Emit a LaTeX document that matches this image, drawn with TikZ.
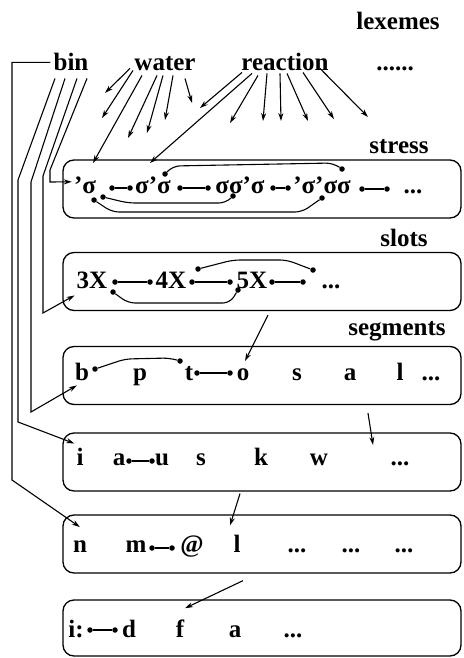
\documentclass[tikz,border=0pt]{standalone}
\usepackage{fontspec}
\setmainfont{Liberation Serif}
\usetikzlibrary{arrows.meta, calc}

\begin{document}
\begin{tikzpicture}[
    x=1pt, y=-1pt,
    tier/.style={draw, line width=1.3pt, rounded corners=11pt,
                 minimum width=398pt, minimum height=58pt, inner sep=0pt},
    lbl/.style={font=\fontsize{25}{29}\selectfont\bfseries, inner sep=0pt, anchor=base},
    dot/.style={circle, fill, inner sep=0pt, minimum size=5.5pt},
    arrow/.style={-{Stealth[length=8pt, width=5pt]}, line width=1.1pt},
    link/.style={line width=1.1pt},
    curvelink/.style={link, rounded corners=7pt},
]
    \useasboundingbox (0,0) rectangle (463,658);

    % tiers
    \node[tier] (stressbox) at (262,189)   {};
    \node[tier] (slotbox)   at (262,281.5) {};
    \node[tier] (segbox)    at (262,375.5) {};
    \node[tier] (segboxB)   at (262,462)   {};
    \node[tier] (segboxC)   at (262,544)   {};
    \node[tier, minimum height=56pt] (segboxD) at (262,628) {};

    % headings and lexemes
    \node[lbl] (lexemes)  at (398,30)  {lexemes};
    \node[lbl] (bin)      at (71,71)   {bin};
    \node[lbl] (water)    at (165,71)  {water};
    \node[lbl] (reaction) at (285,71)  {reaction};
    \node[lbl] (etc)      at (395,71)  {......};
    \node[lbl] (stress)   at (399,153) {stress};
    \node[lbl] (slots)    at (404,246) {slots};
    \node[lbl] (segments) at (397,335) {segments};

    % stress row
    \node[lbl] (s1) at (85,193)  {’σ};
    \node[lbl] (s2) at (153,193) {σ’σ};
    \node[lbl] (s3) at (240,193) {σσ’σ};
    \node[lbl] (s4) at (322,193) {’σ’σσ};
    \node[lbl] (s5) at (413,193) {...};

    % slots row
    \node[lbl] (x3) at (92,288)  {3X};
    \node[lbl] (x4) at (171,288) {4X};
    \node[lbl] (x5) at (252,288) {5X};
    \node[lbl] (x6) at (331,288) {...};

    % segment rows
    \node[lbl] (gb) at (82,380)  {b};
    \node[lbl] (gp) at (140,380) {p};
    \node[lbl] (gt) at (189,380) {t};
    \node[lbl] (go) at (243,380) {o};
    \node[lbl] (gs) at (297,380) {s};
    \node[lbl] (ga) at (350,380) {a};
    \node[lbl] (gl) at (400,380) {l};
    \node[lbl] (gx) at (431,380) {...};

    \node[lbl] (vi) at (80,465)  {i};
    \node[lbl] (va) at (119,465) {a};
    \node[lbl] (vu) at (162,465) {u};
    \node[lbl] (vs) at (201,465) {s};
    \node[lbl] (vk) at (261,465) {k};
    \node[lbl] (vw) at (319,465) {w};
    \node[lbl] (vx) at (400,465) {...};

    \node[lbl] (cn) at (80,552)  {n};
    \node[lbl] (cm) at (136,552) {m};
    \node[lbl] (ca) at (192,552) {@};
    \node[lbl] (cl) at (237,552) {l};
    \node[lbl] (cx) at (297,552) {...};
    \node[lbl] (cy) at (351,552) {...};
    \node[lbl] (cz) at (404,552) {...};

    \node[lbl] (fi) at (76,637)  {i:};
    \node[lbl] (fd) at (129,637) {d};
    \node[lbl] (ff) at (180,637) {f};
    \node[lbl] (fa) at (235,637) {a};
    \node[lbl] (fx) at (293,637) {...};

    % link dots
    \foreach \n/\x/\y in {sa/112/188, sb/130/188, sc/180/188, sd/208/188,
                          se/273/188, sf/288/188, sg/362/189, sh/387/189,
                          su/165/174, sv/342/169, sl/103/197, sm/233/196,
                          sp/94/200, sq/322/198,
                          xa/115/282, xb/150/282, xc/192/282, xd/230/282,
                          xe/272/282, xf/303/282, xu/198/269, xv/313/270,
                          xl/113/292, xm/238/290,
                          ga1/95/369, ga2/180/361, gb1/197/373, gb2/230/373,
                          va1/129/461, va2/152/461,
                          ca1/152/548, ca2/172/548,
                          fa1/90/630, fa2/115/630}
        \node[dot] (\n) at (\x,\y) {};

    \draw[link] (sa) -- (sb);
    \draw[link] (sc) -- (sd);
    \draw[link] (se) -- (sf);
    \draw[link] (sg) -- (sh);
    \draw[curvelink] (su) -- (173,166) -- (333,163) -- (sv);
    \draw[curvelink] (sl) -- (128,203) -- (226,203) -- (sm);
    \draw[curvelink] (sp) -- (112,212) -- (302,212) -- (sq);

    \draw[link] (xa) -- (xb);
    \draw[link] (xc) -- (xd);
    \draw[link] (xe) -- (xf);
    \draw[curvelink] (xu) -- (233,260) -- (287,260) -- (xv);
    \draw[curvelink] (xl) -- (128,303) -- (230,303) -- (xm);

    \draw[curvelink] (ga1) -- (125,359) -- (170,358) -- (ga2);
    \draw[link] (gb1) -- (gb2);
    \draw[link] (va1) -- (va2);
    \draw[link] (ca1) -- (ca2);
    \draw[link] (fa1) -- (fa2);

    % lexeme arrows
    \foreach \dx/\dy/\tx/\ty [count=\i] in {-35/-3/105/93, -32/-1/102/118, -23/4/93/163,
                                            -8/4/128/138, -2/4/147/133, 8/4/165/120, 20/7/192/103}
    {
        \coordinate (wt\i) at (\tx,\ty);
        \draw[arrow] ($(water.south)+(\dx,\dy)$) -- (wt\i);
    }
    \foreach \dx/\dy/\tx/\ty [count=\i] in {-43/1/200/108, -33/2/150/163, -27/4/230/123,
                                            -18/2/263/121, -5/2/281/121, 2/2/308/121,
                                            18/1/334/119, 35/-3/368/117}
    {
        \coordinate (rt\i) at (\tx,\ty);
        \draw[arrow] ($(reaction.south)+(\dx,\dy)$) -- (rt\i);
    }

    % bin down the left side
    \coordinate (tipS) at ($(s1.west)+(-2,-3)$);
    \coordinate (tipX) at ($(x3.south west)+(-2,7)$);
    \coordinate (tipB) at ($(gb.south west)+(2,5)$);
    \coordinate (tipI) at ($(vi.north west)+(-2,-4)$);
    \coordinate (tipN) at ($(cn.north west)+(7,-13)$);
    \draw[arrow] ([xshift=-3pt]bin.west) -| (12,480) -- (tipN);
    \draw[arrow] ($(bin.south)+(-16,7)$) -- (18,180) -- (18,422) -- (tipI);
    \draw[arrow] ($(bin.south)+(-6,7)$) -- (31,182) -- (31,412) -- (tipB);
    \draw[arrow] ($(bin.south)+(6,7)$) -- (43,176) -- (43,313) -- (tipX);
    \draw[arrow] ($(bin.south)+(16,7)$) -- (50,170) -- (50,182) -- (tipS);

    % between tiers
    \coordinate (tipW) at (373,445);
    \draw[arrow] ($(slotbox.south)+(6,4)$) -- ($(go.north)+(2,-7)$);
    \draw[arrow] ($(segbox.south)+(106,8)$) -- (tipW);
    \draw[arrow] ($(segboxB.south)+(-22,2)$) -- ($(cl.north)+(-7,-9)$);
    \draw[arrow] ($(segboxC.south)+(-19,7)$) -- ($(ff.north)+(5,-11)$);
\end{tikzpicture}
\end{document}
